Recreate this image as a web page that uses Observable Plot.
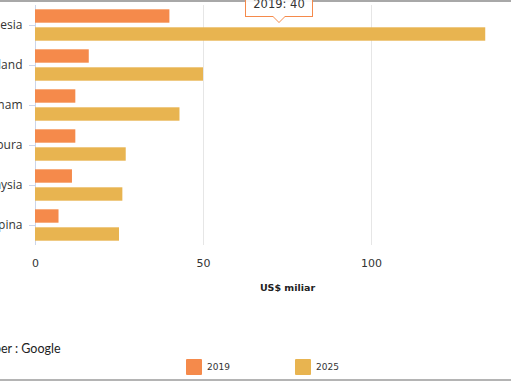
<!DOCTYPE html>
<html>
<head>
<meta charset="utf-8">
<script src="https://cdn.jsdelivr.net/npm/d3@7"></script>
<script src="https://cdn.jsdelivr.net/npm/@observablehq/plot@0.6"></script>
<style>
  html, body { margin: 0; padding: 0; background: #fff; }
  #wrap { position: relative; width: 511px; height: 381px; overflow: hidden; background: #fff; }
  #wrap .topline { position: absolute; left: 0; top: 0; width: 511px; height: 2px; background: #a8a8a8; }
  #wrap .botline { position: absolute; left: 0; top: 379px; width: 511px; height: 2px; background: #b4b4b4; }
  #chart { position: absolute; left: -100px; top: 0; width: 645px; }
  #chart svg { max-width: none !important; }
  #source { position: absolute; left: -30px; top: 341px; font: 12.5px Lato, sans-serif; color: #222; white-space: nowrap; }
  .leg { position: absolute; top: 359px; display: flex; align-items: center; font: 9px "DejaVu Sans", sans-serif; color: #333; }
  .leg .sw { width: 16px; height: 16px; border-radius: 1px; margin-right: 5px; }
  #tip { position: absolute; left: 245px; top: -9px; width: 66px; height: 24px; border: 1px solid #f58a4b; background: rgba(255,255,255,0.92);
         font: 11.5px "DejaVu Sans", sans-serif; color: #333; text-align: center; line-height: 24px; box-sizing: content-box; }
  #tip:after, #tip:before { content: ""; position: absolute; left: 50%; border-style: solid; }
  #tip:before { bottom: -7px; margin-left: -7px; border-width: 7px 7px 0 7px; border-color: #f58a4b transparent transparent transparent; }
  #tip:after { bottom: -5.6px; margin-left: -6px; border-width: 6px 6px 0 6px; border-color: #fff transparent transparent transparent; }
</style>
</head>
<body>
<div id="wrap">
  <div class="topline"></div>
  <div id="chart"></div>
  <div id="tip"></div>
  <div id="source"></div>
  <div class="leg" id="leg0" style="left:186px"></div>
  <div class="leg" id="leg1" style="left:295px"></div>
  <div class="botline"></div>
</div>
<script>
const countries = ["Indonesia", "Thailand", "Vietnam", "Singapura", "Malaysia", "Filipina"];
const years = ["2019", "2025"];
const values2019 = [40, 16, 12, 12, 11, 7];
const values2025 = [134, 50, 43, 27, 26, 25];
const colors = ["#f58a4b", "#e8b450"];
const xTicks = [0, 50, 100];
const xLabel = "US$ miliar";
const sourceText = "Sumber : Google";

const rows2019 = countries.map((c, i) => ({country: c, year: years[0], value: values2019[i]}));
const rows2025 = countries.map((c, i) => ({country: c, year: years[1], value: values2025[i]}));

const offset = 100;
const chart = Plot.plot({
  width: 645,
  height: 300,
  marginLeft: 35 + offset,
  marginRight: 6,
  marginTop: 5,
  marginBottom: 55,
  style: {background: "transparent", overflow: "visible", maxWidth: "none"},
  x: {domain: [0, 150], ticks: xTicks},
  y: {domain: countries, padding: 0},
  marks: [
    Plot.ruleX([50, 100, 150], {stroke: "#e6e6e6", strokeWidth: 1}),
    Plot.ruleX([0], {stroke: "#ccd6eb", strokeWidth: 1}),
    Plot.barX(rows2019, {y: "country", x: "value", fill: colors[0], insetTop: 4.3, insetBottom: 22.3}),
    Plot.barX(rows2025, {y: "country", x: "value", fill: colors[1], insetTop: 22.3, insetBottom: 4.3}),
    Plot.axisY({tickSize: 6, tickPadding: 7, stroke: "#ccd6eb", fill: "#333", fontSize: 12, fontFamily: "Open Sans", label: null}),
    Plot.axisX({ticks: xTicks, tickSize: 0, tickPadding: 14, fill: "#333", fontSize: 11, fontFamily: "DejaVu Sans", label: null}),
    Plot.text([xLabel], {frameAnchor: "bottom", dy: 45, text: d => d, fontWeight: "bold", fontSize: 9.5, fontFamily: "DejaVu Sans", fill: "#222"})
  ]
});
document.getElementById("chart").appendChild(chart);

document.getElementById("tip").textContent = `${years[0]}: ${values2019[0]}`;
document.getElementById("source").textContent = sourceText;
years.forEach((y, i) => {
  const el = document.getElementById("leg" + i);
  el.innerHTML = `<div class="sw" style="background:${colors[i]}"></div><span>${y}</span>`;
});
</script>
</body>
</html>
